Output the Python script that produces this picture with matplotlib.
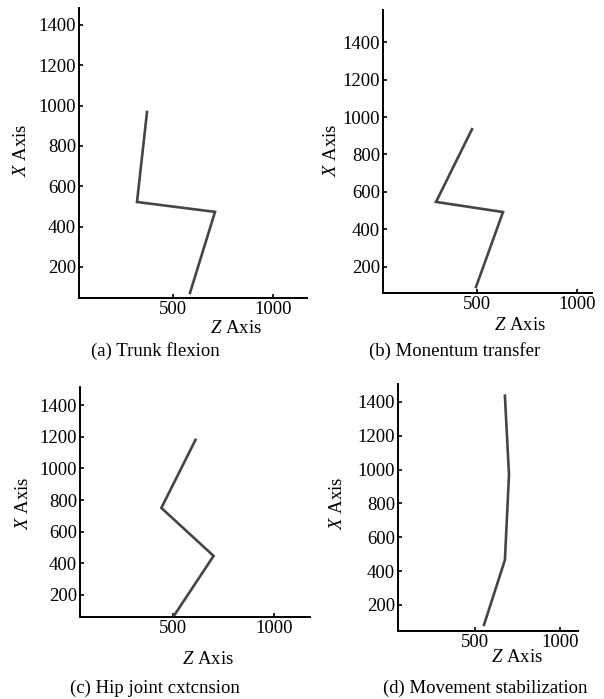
import matplotlib
matplotlib.use("Agg")
import matplotlib.pyplot as plt

plt.rcParams['font.family'] = 'Liberation Serif'
plt.rcParams['mathtext.fontset'] = 'custom'
plt.rcParams['mathtext.rm'] = 'Liberation Serif'
plt.rcParams['mathtext.it'] = 'Liberation Serif:italic'

# joint positions (Z, X) for each phase
z_a = [585, 710, 320, 370]
x_a = [71, 473, 522, 968]
z_b = [495, 630, 295, 475]
x_b = [93, 493, 547, 935]
z_c = [505, 700, 440, 610]
x_c = [73, 447, 750, 1180]
z_d = [553, 676, 700, 676]
x_d = [82, 466, 969, 1437]

captions = ['(a) Trunk flexion', '(b) Monentum transfer',
            '(c) Hip joint cxtcnsion', '(d) Movement stabilization']
y_ticks = [200, 400, 600, 800, 1000, 1200, 1400]
z_ticks = [500, 1000]

W, H = 604, 699
fig = plt.figure(figsize=(W / 100, H / 100), dpi=100)

# pixel boxes: left, top, right, bottom ; limits ; label positions
panels = [
    dict(z=z_a, x=x_a, box=(79, 8, 307, 298), xlim=(30, 1170), ylim=(46, 1484),
         cap=(155, 351), zl=(236, 328), xl=(22, 150)),
    dict(z=z_b, x=x_b, box=(383, 10, 592, 293), xlim=(30, 1075), ylim=(61, 1571),
         cap=(455, 351), zl=(520, 326), xl=(332, 150)),
    dict(z=z_c, x=x_c, box=(80, 387, 310, 617), xlim=(35, 1180), ylim=(61, 1514),
         cap=(155, 688), zl=(208, 660), xl=(23, 503)),
    dict(z=z_d, x=x_d, box=(398, 384, 578, 631), xlim=(47, 1106), ylim=(46, 1506),
         cap=(485, 688), zl=(517, 658), xl=(338, 503)),
]

for p, cap in zip(panels, captions):
    l, t, r, b = p['box']
    ax = fig.add_axes([l / W, 1 - b / H, (r - l) / W, (b - t) / H])
    ax.plot(p['z'], p['x'], color='#454545', lw=1.9, solid_joinstyle='miter')
    ax.set_xlim(*p['xlim'])
    ax.set_ylim(*p['ylim'])
    ax.set_xticks(z_ticks)
    ax.set_yticks(y_ticks)
    for s in ['top', 'right']:
        ax.spines[s].set_visible(False)
    for s in ['left', 'bottom']:
        ax.spines[s].set_linewidth(1.4)
    ax.tick_params(direction='in', length=3, width=1.2, labelsize=13.5, pad=2)
    fig.text(p['cap'][0] / W, 1 - p['cap'][1] / H, cap, ha='center', va='center', fontsize=13.5)
    fig.text(p['zl'][0] / W, 1 - p['zl'][1] / H, r'$Z$ Axis', ha='center', va='center', fontsize=13.5)
    fig.text(p['xl'][0] / W, 1 - p['xl'][1] / H, r'$X$ Axis', ha='center', va='center',
             fontsize=13.5, rotation=90)

fig.savefig('out.png', dpi=100, facecolor='white')
